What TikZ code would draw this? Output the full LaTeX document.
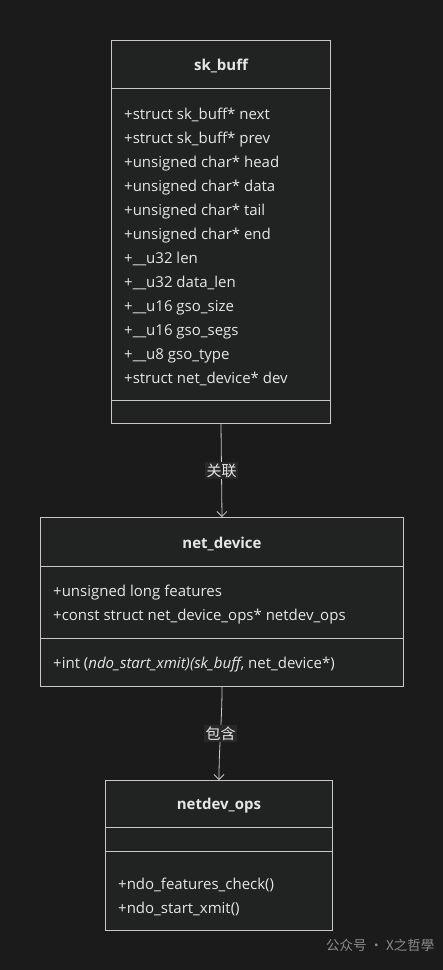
\documentclass[tikz,border=0pt]{standalone}
\usepackage{fontspec}
\setmainfont{Open Sans}
\newfontfamily\cjk{Noto Sans CJK SC}
\usetikzlibrary{positioning, calc, arrows.meta}
\definecolor{bg}{HTML}{1B1B1B}
\definecolor{boxfill}{HTML}{212322}
\definecolor{edge}{HTML}{C8C8C8}
\definecolor{ink}{HTML}{E6E6E6}
\definecolor{labelfill}{HTML}{282828}
\definecolor{wmgray}{HTML}{8C8C8C}
\tikzset{
  class/.style={draw=edge, fill=boxfill, line width=1pt, anchor=north west, inner sep=0pt},
  title/.style={font=\bfseries\fontsize{15}{18}\selectfont},
  members/.style={anchor=north west, inner sep=0pt, align=left, font=\fontsize{15}{24}\selectfont},
  sep/.style={draw=edge, line width=1pt},
  rel/.style={draw=edge, line width=0.8pt, -{Straight Barb[length=5pt, width=10pt]}},
  rel label/.style={fill=labelfill, font=\cjk\fontsize{15}{18}\selectfont, inner sep=1.5pt},
}
\begin{document}
\begin{tikzpicture}[x=1pt, y=-1pt, every node/.style={text=ink}]
\fill[bg] (0,0) rectangle (443,970);
\useasboundingbox (0,0) rectangle (443,970);
% sk_buff
\node[class, minimum width=219pt, minimum height=383pt] (skbuff) at (111,40) {};
\node[title] (skbuff title) at ($(skbuff.north)+(0,25.5)$) {sk\_buff};
\draw[sep] (skbuff.north west) ++(0,48) -- ++(219,0);
\draw[sep] (skbuff.south west) ++(0,-24) -- ++(219,0);
\node[members] (skbuff fields) at (124,107.5) {+struct sk\_buff* next\\+struct sk\_buff* prev\\+unsigned char* head\\+unsigned char* data\\+unsigned char* tail\\+unsigned char* end\\+\_\_u32 len\\+\_\_u32 data\_len\\+\_\_u16 gso\_size\\+\_\_u16 gso\_segs\\+\_\_u8 gso\_type\\+struct net\_device* dev};
% net_device
\node[class, minimum width=363pt, minimum height=169pt] (netdev) at (40,517) {};
\node[title] (netdev title) at ($(netdev.north)+(0,26.5)$) {net\_device};
\draw[sep] (netdev.north west) ++(0,49) -- ++(363,0);
\draw[sep] (netdev.south west) ++(0,-49) -- ++(363,0);
\node[members] (netdev fields) at (53,584.5) {+unsigned long features\\+const struct net\_device\_ops* netdev\_ops};
\node[members] (netdev methods) at (53,656.5) {+int (\textit{ndo\_start\_xmit)(sk\_buff}, net\_device*)};
% netdev_ops
\node[class, minimum width=227pt, minimum height=150pt] (ops) at (105,780) {};
\node[title] (ops title) at ($(ops.north)+(0,25.5)$) {netdev\_ops};
\draw[sep] (ops.north west) ++(0,47) -- ++(227,0);
\draw[sep] (ops.north west) ++(0,71) -- ++(227,0);
\node[members] (ops methods) at (118,877.5) {+ndo\_features\_check()\\+ndo\_start\_xmit()};
% relations
\draw[rel] (skbuff.south) -- node[rel label] (assoc) {关联} (netdev.north);
\draw[rel] (netdev.south) to[out=-90, in=90] node[rel label] (contain) {包含} (ops.north);
\node[anchor=east, font=\cjk\fontsize{13.5}{16}\selectfont, text=wmgray] (watermark) at (438,945) {公众号 · X之哲學};
\end{tikzpicture}
\end{document}
